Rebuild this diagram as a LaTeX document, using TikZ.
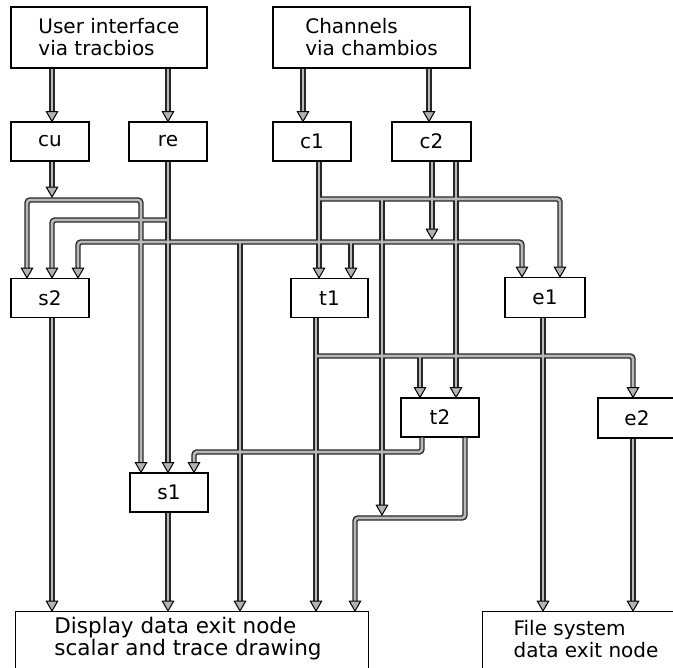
\documentclass[tikz,border=0pt]{standalone}
\usepackage{fontspec}
\setmainfont{DejaVu Sans}
\usetikzlibrary{shapes.geometric}
\newcommand\wirenet{%
% from the two top boxes
\draw[w,a] (ui.south -| 52,0) -- (cu.north -| 52,0);
\draw[w,a] (ui.south -| 168,0) -- (re.north -| 168,0);
\draw[w,a] (ch.south -| 303,0) -- (c1.north -| 303,0);
\draw[w,a] (ch.south -| 429,0) -- (c2.north -| 429,0);
% cu onto bus A
\draw[w,a] (cu.south -| 52,0) -- (cuTip);
\draw[w,sa,a,rc] (s2.north -| 27,0) -- (27,200) -- (141,200) -- (s1.north -| 141,0);
% re
\draw[w,a] (re.south -| 168,0) -- (s1.north -| 168,0);
\draw[w,a,rc] (168,220) -- (52,220) -- (s2.north -| 52,0);
% c2 onto bus C
\draw[w,a] (c2.south -| 432,0) -- (c2Tip);
\draw[w,sa,a,rc] (s2.north -| 78,0) -- (78,242) -- (522,242) -- (e1.north -| 522,0);
\draw[w,a] (240,242) -- (disp.north -| 240,0);
\draw[w,a] (351,242) -- (t1.north -| 351,0);
% c1 and bus D
\draw[w,a] (c1.south -| 319,0) -- (t1.north -| 319,0);
\draw[w,a,rc] (319,199) -- (560,199) -- (e1.north -| 560,0);
\draw[w,a] (382,199) -- (fTip);
% c2 second output
\draw[w,a] (c2.south -| 456,0) -- (t2.north -| 456,0);
% t1 and bus E
\draw[w,a] (t1.south -| 316,0) -- (disp.north -| 316,0);
\draw[w,a,rc] (316,356) -- (633,356) -- (e2.north -| 633,0);
\draw[w,a] (420,356) -- (t2.north -| 420,0);
% t2 outputs
\draw[w,a,rc] (t2.south -| 422,0) -- (422,452) -- (194,452) -- (s1.north -| 194,0);
\draw[w,a,rc] (t2.south -| 465,0) -- (465,518) -- (355,518) -- (disp.north -| 355,0);
% outputs to exit nodes
\draw[w,a] (s2.south -| 52,0) -- (disp.north -| 52,0);
\draw[w,a] (s1.south -| 168,0) -- (disp.north -| 168,0);
\draw[w,a] (e1.south -| 543,0) -- (fs.north -| 543,0);
\draw[w,a] (e2.south -| 633,0) -- (fs.north -| 633,0);
}
\begin{document}
\begin{tikzpicture}[x=1pt,y=-1pt,
  box/.style={draw=black, line width=1.2pt, fill=white, inner sep=0pt,
    font=\fontsize{20}{22}\selectfont},
  sbox/.style={box, minimum width=78pt, minimum height=39pt},
  txt/.style={align=left, inner sep=0pt, font=\fontsize{20}{22}\selectfont},
  tip/.style={regular polygon, regular polygon sides=3, shape border rotate=180,
    minimum size=13pt, inner sep=0pt, outer sep=0pt, anchor=corner 1,
    draw=black, line width=1pt, fill=gray!60},
  a/.style={shorten >=7pt},
  sa/.style={shorten <=7pt},
  rc/.style={rounded corners=3pt}]
\useasboundingbox (0,0) rectangle (673,668);
% boxes
\node[box, minimum width=196pt, minimum height=61pt, align=left] (ui) at (109,37.5)
  {User interface\\via tracbios};
\node[box, minimum width=197pt, minimum height=61pt, align=left] (ch) at (371.5,37.5)
  {Channels\\via chambios};
\node[sbox] (cu) at (50,141.5) {cu};
\node[sbox] (re) at (168,141.5) {re};
\node[sbox] (c1) at (312,141.5) {c1};
\node[sbox, minimum width=79pt] (c2) at (431.5,141.5) {c2};
\node[sbox] (s2) at (50,298) {s2};
\node[sbox, minimum width=77pt] (t1) at (329.5,298) {t1};
\node[sbox, minimum width=80pt, minimum height=40pt] (e1) at (545,297.5) {e1};
\node[sbox] (t2) at (440,417.5) {t2};
\node[sbox, minimum height=40pt] (e2) at (637,418) {e2};
\node[sbox] (s1) at (169,492.5) {s1};
\node[box, minimum width=353pt, minimum height=70pt, anchor=north west] (disp) at (15,611) {};
\node[txt, font=\fontsize{21.5}{22}\selectfont] (dtext) at (188,639) {Display data exit node\\scalar and trace drawing};
\node[box, minimum width=200pt, minimum height=70pt, anchor=north west] (fs) at (482,611) {};
\node[txt] (ftext) at (586,639) {File system\\data exit node};
% bus arrow ends
\coordinate (cuTip) at (52,197);
\coordinate (c2Tip) at (432,239);
\coordinate (fTip) at (382,515);
% wires: dark outline pass, then grey core pass
\tikzset{w/.style={draw=black!85, line width=5.4pt}}
\wirenet
\tikzset{w/.style={draw=gray!55, line width=2.6pt}}
\wirenet
% arrow heads
\node[tip] (h1) at (cu.north -| 52,0) {};
\node[tip] (h2) at (re.north -| 168,0) {};
\node[tip] (h3) at (c1.north -| 303,0) {};
\node[tip] (h4) at (c2.north -| 429,0) {};
\node[tip] (h5) at (cuTip) {};
\node[tip] (h6) at (s2.north -| 27,0) {};
\node[tip] (h7) at (s2.north -| 52,0) {};
\node[tip] (h8) at (s2.north -| 78,0) {};
\node[tip] (h9) at (s1.north -| 141,0) {};
\node[tip] (h10) at (s1.north -| 168,0) {};
\node[tip] (h11) at (s1.north -| 194,0) {};
\node[tip] (h12) at (c2Tip) {};
\node[tip] (h13) at (t1.north -| 319,0) {};
\node[tip] (h14) at (t1.north -| 351,0) {};
\node[tip] (h15) at (e1.north -| 522,0) {};
\node[tip] (h16) at (e1.north -| 560,0) {};
\node[tip] (h17) at (fTip) {};
\node[tip] (h18) at (t2.north -| 420,0) {};
\node[tip] (h19) at (t2.north -| 456,0) {};
\node[tip] (h20) at (e2.north -| 633,0) {};
\node[tip] (h21) at (disp.north -| 52,0) {};
\node[tip] (h22) at (disp.north -| 168,0) {};
\node[tip] (h23) at (disp.north -| 240,0) {};
\node[tip] (h24) at (disp.north -| 316,0) {};
\node[tip] (h25) at (disp.north -| 355,0) {};
\node[tip] (h26) at (fs.north -| 543,0) {};
\node[tip] (h27) at (fs.north -| 633,0) {};
\end{tikzpicture}
\end{document}
